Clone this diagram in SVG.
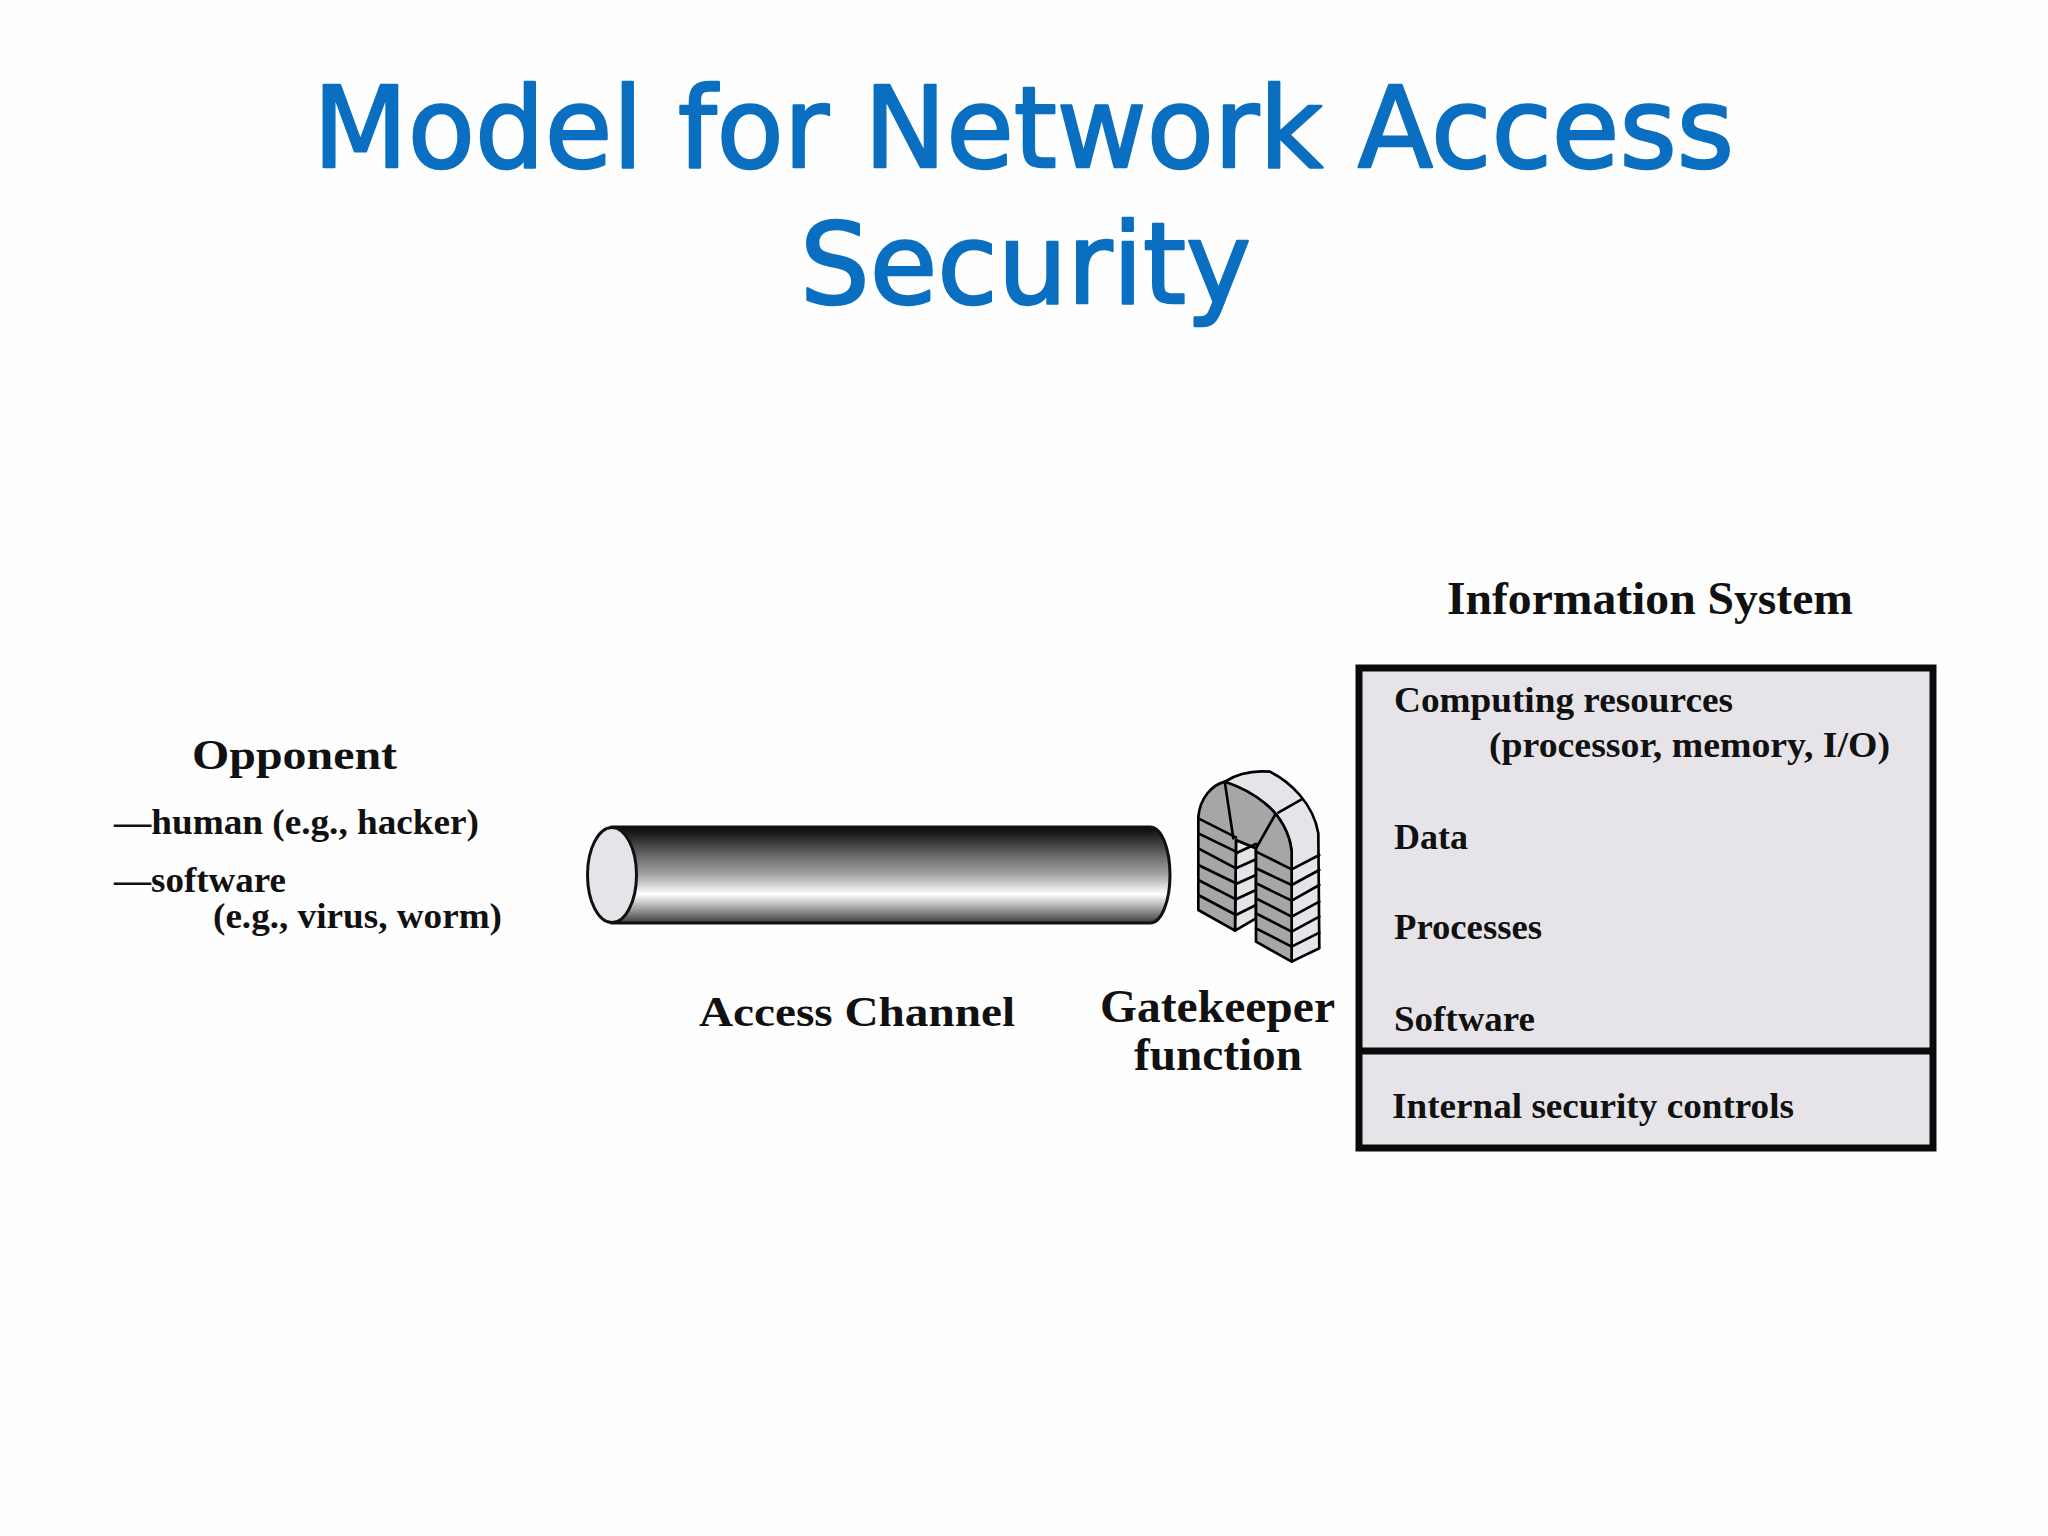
<svg xmlns="http://www.w3.org/2000/svg" width="2048" height="1536" viewBox="0 0 2048 1536">
<style>
.title{font-family:"DejaVu Sans",sans-serif;font-size:113px;fill:#0a6fc0;stroke:#0a6fc0;stroke-width:2.5px;stroke-linejoin:round}
.t{font-family:"Liberation Serif",serif;font-weight:bold;fill:#111;font-size:36px}
.b{font-size:43px}
.s{font-size:36px}
.g{font-size:46px}
.ln{fill:none;stroke:#000;stroke-width:8;stroke-linecap:round;stroke-linejoin:round}
.dark{fill:#a6a6a8}
.light{fill:#e6e4e8}
</style>
<defs>
<linearGradient id="cyl" x1="0" y1="0" x2="0" y2="1">
<stop offset="0" stop-color="#08080a"/>
<stop offset="0.14" stop-color="#343336"/>
<stop offset="0.32" stop-color="#706f72"/>
<stop offset="0.5" stop-color="#a4a4a4"/>
<stop offset="0.64" stop-color="#e4e4e4"/>
<stop offset="0.7" stop-color="#ffffff"/>
<stop offset="0.84" stop-color="#a8a8a8"/>
<stop offset="1" stop-color="#3c3c3c"/>
</linearGradient>
</defs>
<rect width="2048" height="1536" fill="#fefefe"/>
<g id="title">
<text class="title" x="313" y="167" textLength="1421" lengthAdjust="spacingAndGlyphs">Model for Network Access</text>
<text class="title" x="800" y="303" textLength="451" lengthAdjust="spacingAndGlyphs">Security</text>
</g>
<g id="opponent">
<text class="t b" x="192" y="769" textLength="205" lengthAdjust="spacingAndGlyphs">Opponent</text>
<text class="t" x="114" y="834" textLength="365" lengthAdjust="spacingAndGlyphs">—human (e.g., hacker)</text>
<text class="t" x="114" y="892" textLength="172" lengthAdjust="spacingAndGlyphs">—software</text>
<text class="t" x="213" y="928" textLength="289" lengthAdjust="spacingAndGlyphs">(e.g., virus, worm)</text>
</g>
<g id="access-channel">
<path d="M612,827 H1150 C1162,827 1170,850 1170,875 C1170,900 1162,923 1150,923 H612 Z" fill="url(#cyl)" stroke="#111" stroke-width="3"/>
<ellipse cx="612" cy="875" rx="24.5" ry="47.5" class="light" stroke="#111" stroke-width="3"/>
<text class="t b" x="699" y="1026" textLength="316" lengthAdjust="spacingAndGlyphs">Access Channel</text>
</g>
<g id="gatekeeper">
<g transform="translate(1150,740) scale(0.3333)">
<path d="M225,125 C255,105 300,90 360,95 C420,125 490,190 505,280 L508,625 L425,665 L425,335 C420,270 370,190 225,125 Z" class="ln light" style="fill:#e6e4e8"/>
<path d="M258,300 L318,325 L318,535 L255,572 Z" class="ln light" style="fill:#e6e4e8"/>
<path d="M145,230 L145,510 L255,572 L258,300 L318,325 L318,605 L425,665 L425,335 C420,280 390,225 345,190 C310,160 270,140 225,125 C185,135 150,175 145,230 Z" class="ln dark" style="fill:#a6a6a8"/>
<path class="ln" d="M225,130 L250,295 M375,225 L318,325 M385,218 L455,178
M145,235 L258,292 M145,280 L258,335 M145,325 L258,385 M145,375 L258,430 M145,420 L258,478 M145,465 L258,525
M258,340 L318,312 M258,385 L318,358 M258,432 L318,405 M258,478 L318,450 M258,525 L318,495
M318,335 L425,388 M318,385 L425,435 M318,430 L425,482 M318,475 L425,530 M318,520 L425,575 M318,565 L425,620
M425,388 L508,345 M425,435 L508,390 M425,482 L508,435 M425,530 L508,485 M425,575 L508,530 M425,620 L508,578"/>
</g>
<text class="t g" x="1100" y="1022" textLength="235" lengthAdjust="spacingAndGlyphs">Gatekeeper</text>
<text class="t g" x="1134" y="1070" textLength="168" lengthAdjust="spacingAndGlyphs">function</text>
</g>
<g id="information-system">
<text class="t g" x="1447" y="614" textLength="406" lengthAdjust="spacingAndGlyphs">Information System</text>
<rect x="1359" y="668" width="574" height="480" class="light" stroke="#0a0a0a" stroke-width="7"/>
<line x1="1359" y1="1051" x2="1933" y2="1051" stroke="#0a0a0a" stroke-width="7"/>
<text class="t s" x="1394" y="712" textLength="339" lengthAdjust="spacingAndGlyphs">Computing resources</text>
<text class="t s" x="1489" y="757" textLength="401" lengthAdjust="spacingAndGlyphs">(processor, memory, I/O)</text>
<text class="t s" x="1394" y="849" textLength="74" lengthAdjust="spacingAndGlyphs">Data</text>
<text class="t s" x="1394" y="939" textLength="148" lengthAdjust="spacingAndGlyphs">Processes</text>
<text class="t s" x="1394" y="1031" textLength="141" lengthAdjust="spacingAndGlyphs">Software</text>
<text class="t s" x="1392" y="1118" textLength="402" lengthAdjust="spacingAndGlyphs">Internal security controls</text>
</g>
</svg>
